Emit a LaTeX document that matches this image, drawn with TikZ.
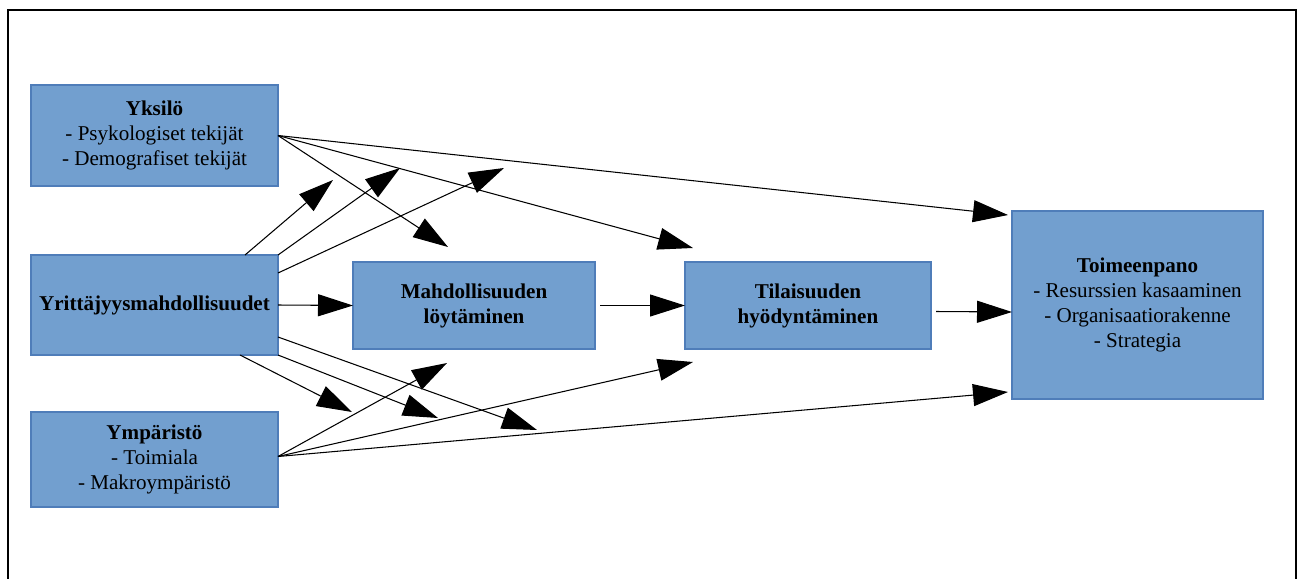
\documentclass[tikz,border=0pt]{standalone}
\usepackage{fontspec}
\setmainfont{Liberation Serif}
\usetikzlibrary{arrows.meta}
\definecolor{boxfill}{RGB}{114,159,207}
\definecolor{boxline}{RGB}{79,125,185}
\tikzset{
  factor/.style={draw=boxline, fill=boxfill, line width=0.6pt, align=center,
    inner sep=0pt, outer sep=0pt, font=\fontsize{12}{14.2}\selectfont},
  arr/.style={-{Triangle[length=0.7cm,width=0.44cm]}, line width=0.6pt}
}
\begin{document}
\begin{tikzpicture}[x=0.02cm, y=-0.02cm]
\useasboundingbox (0,0) rectangle (1304,578);
% frame
\draw[line width=1.6pt] (8,10) rectangle (1296,620);
% boxes
\node[factor, minimum width=247*0.02cm, minimum height=101*0.02cm] (yksilo) at (154.5,135.5)
  {\textbf{Yksilö}\\- Psykologiset tekijät\\- Demografiset tekijät};
\node[factor, minimum width=247*0.02cm, minimum height=100*0.02cm] (yritys) at (154.5,305)
  {\textbf{Yrittäjyysmahdollisuudet}};
\node[factor, minimum width=247*0.02cm, minimum height=95*0.02cm] (ymparisto) at (154.5,459.5)
  {\textbf{Ympäristö}\\- Toimiala\\- Makroympäristö};
\node[factor, minimum width=242*0.02cm, minimum height=87*0.02cm] (loyto) at (474,305.5)
  {\textbf{Mahdollisuuden}\\\textbf{löytäminen}};
\node[factor, minimum width=246*0.02cm, minimum height=87*0.02cm] (hyoty) at (808,305.5)
  {\textbf{Tilaisuuden}\\\textbf{hyödyntäminen}};
\node[factor, minimum width=251*0.02cm, minimum height=188*0.02cm] (toimeenpano) at (1137.5,305)
  {\textbf{Toimeenpano}\\- Resurssien kasaaminen\\- Organisaatiorakenne\\- Strategia};
% free arrow ends
\coordinate (y1) at (448,247);
\coordinate (y2) at (693,248);
\coordinate (y3) at (1008,215);
\coordinate (r1) at (333,180);
\coordinate (r2) at (400,168);
\coordinate (r3) at (504,168);
\coordinate (r5) at (352,412);
\coordinate (r6) at (438,418);
\coordinate (r7) at (537,430);
\coordinate (e1) at (447,363);
\coordinate (e2) at (693,362);
\coordinate (e3) at (1008,392);
% Yksilö
\foreach \t in {y1,y2,y3}
  \draw[arr] (yksilo.east) -- (\t);
% Yrittäjyysmahdollisuudet
\draw[arr] ([shift={(-33,0)}]yritys.north east) -- (r1);
\draw[arr] (yritys.north east) -- (r2);
\draw[arr] ([shift={(0,-32)}]yritys.east) -- (r3);
\draw[arr] (yritys.east) -- (loyto.west);
\draw[arr] ([shift={(-38,0)}]yritys.south east) -- (r5);
\draw[arr] (yritys.south east) -- (r6);
\draw[arr] ([shift={(0,32)}]yritys.east) -- (r7);
% Ympäristö
\foreach \t in {e1,e2,e3}
  \draw[arr] ([shift={(0,-3)}]ymparisto.east) -- (\t);
% process chain
\draw[arr] ([shift={(5,0)}]loyto.east) -- (hyoty.west);
\draw[arr] ([shift={(5,6)}]hyoty.east) -- ([shift={(0,7)}]toimeenpano.west);
\end{tikzpicture}
\end{document}
